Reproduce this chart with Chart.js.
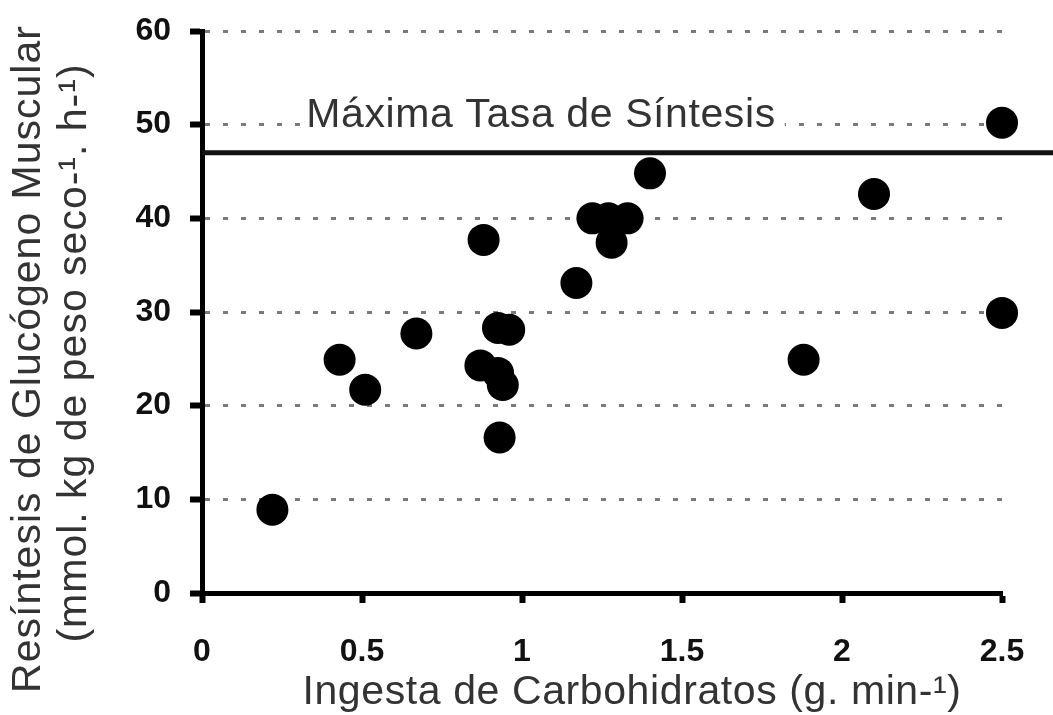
<!DOCTYPE html>
<html>
<head>
<meta charset="utf-8">
<script src="https://cdn.jsdelivr.net/npm/chart.js@4.4.0/dist/chart.umd.min.js"></script>
<style>
  html, body { margin: 0; padding: 0; background: #fff; }
  #wrap { width: 1053px; height: 715px; position: relative; }
</style>
</head>
<body>
<div id="wrap"><canvas id="chart"></canvas></div>
<script>
// carbohydrate intake (g/min) and glycogen resynthesis rate for each subject
const carbIntake = [0.22, 0.43, 0.51, 0.67, 0.87, 0.88, 0.925, 0.96, 0.925, 0.94, 0.93,
                    1.17, 1.22, 1.27, 1.28, 1.33, 1.40, 1.88, 2.10, 2.50, 2.50];
const glycogenRate = [8.9, 24.9, 21.7, 27.7, 24.3, 37.7, 28.3, 28.1, 23.5, 22.2, 16.6,
                      33.1, 40.0, 40.0, 37.4, 40.0, 44.8, 24.9, 42.6, 50.2, 29.9];

// "maximal synthesis rate" reference line, runs to the right edge
const maxRateX = [0, 2.66];
const maxRateY = [47, 47];
const maxRateLabel = "Máxima Tasa de Síntesis";

const xTickValues = [0, 0.5, 1, 1.5, 2, 2.5];
const xTickLabels = ["0", "0.5", "1", "1.5", "2", "2.5"];
const yTickValues = [0, 10, 20, 30, 40, 50, 60];
const yTickLabels = ["0", "10", "20", "30", "40", "50", "60"];

const xTitle = "Ingesta de Carbohidratos (g. min-¹)";
const yTitle = ["Resíntesis de Glucógeno Muscular", "(mmol. kg de peso seco-¹. h-¹)"];

const FONT = '"Liberation Sans", Arial, sans-serif';

const textPlugin = {
    id: "texts",
    afterDatasetsDraw(chart) {
        const ctx = chart.ctx;
        const y = chart.scales.y;
        ctx.save();
        ctx.font = `41px ${FONT}`;
        ctx.letterSpacing = "0.6px";
        ctx.fillStyle = "#333";
        ctx.textBaseline = "middle";
        ctx.textAlign = "center";

        // label over the 50 gridline, with a white box to break the dots
        const w = ctx.measureText(maxRateLabel).width;
        const ly = y.getPixelForValue(50) - 9;
        ctx.save();
        ctx.fillStyle = "#fff";
        ctx.fillRect(541 - w / 2 - 5, ly - 22, w + 14, 40);
        ctx.restore();
        ctx.fillText(maxRateLabel, 541, ly);

        // x axis title
        ctx.fillText(xTitle, 632, 693);

        // y axis title, two rotated lines
        ctx.letterSpacing = "1px";
        ctx.save();
        ctx.translate(29, 359);
        ctx.rotate(-Math.PI / 2);
        ctx.fillText(yTitle[0], 0, 0);
        ctx.restore();
        ctx.save();
        ctx.translate(75, 353);
        ctx.rotate(-Math.PI / 2);
        ctx.fillText(yTitle[1], 0, 0);
        ctx.restore();
        ctx.restore();
    },
};

const config = {
    data: {
        datasets: [
            {
                type: "line",
                data: maxRateX.map((x, i) => ({ x, y: maxRateY[i] })),
                borderColor: "#111",
                borderWidth: 5,
                pointRadius: 0,
                clip: false,
                order: 2,
            },
            {
                type: "scatter",
                data: carbIntake.map((x, i) => ({ x, y: glycogenRate[i] })),
                backgroundColor: "#000",
                borderColor: "#000",
                borderWidth: 0,
                pointRadius: 16,
                pointHoverRadius: 16,
                clip: false,
                order: 1,
            },
        ],
    },
    options: {
        responsive: true,
        maintainAspectRatio: false,
        animation: false,
        events: [],
        layout: { autoPadding: false, padding: { top: 31, right: 51, left: 0, bottom: 0 } },
        plugins: {
            legend: { display: false },
            tooltip: { enabled: false },
        },
        scales: {
            x: {
                type: "linear",
                min: 0,
                max: 2.5,
                afterFit: (s) => { s.height = 122; s.paddingLeft = 0; s.paddingRight = 0; },
                afterBuildTicks: (s) => { s.ticks = xTickValues.map((value) => ({ value })); },
                border: { display: true, color: "#000", width: 5 },
                grid: {
                    drawOnChartArea: false,
                    drawTicks: true,
                    tickLength: 10,
                    tickWidth: 6,
                    tickColor: "#000",
                },
                ticks: {
                    callback: (v, i) => xTickLabels[i],
                    color: "#111",
                    font: { family: FONT, size: 32, weight: "bold" },
                    padding: 30,
                    maxRotation: 0,
                    autoSkip: false,
                },
            },
            y: {
                type: "linear",
                min: 0,
                max: 60,
                afterFit: (s) => { s.width = 202; s.paddingTop = 0; s.paddingBottom = 0; },
                afterBuildTicks: (s) => { s.ticks = yTickValues.map((value) => ({ value })); },
                border: { display: true, color: "#000", width: 5, dash: [5, 13] },
                grid: {
                    color: (c) => (c.tick && c.tick.value === 0 ? "rgba(0,0,0,0)" : "#7a7a7a"),
                    lineWidth: 3,
                    drawTicks: true,
                    tickLength: 12,
                    tickWidth: 6,
                    tickColor: "#000",
                    tickBorderDash: [],
                },
                ticks: {
                    callback: (v, i) => yTickLabels[i],
                    color: "#111",
                    font: { family: FONT, size: 32, weight: "bold" },
                    padding: 19,
                    autoSkip: false,
                },
            },
        },
    },
    plugins: [textPlugin],
};

new Chart(document.getElementById("chart").getContext("2d"), config);
</script>
</body>
</html>
